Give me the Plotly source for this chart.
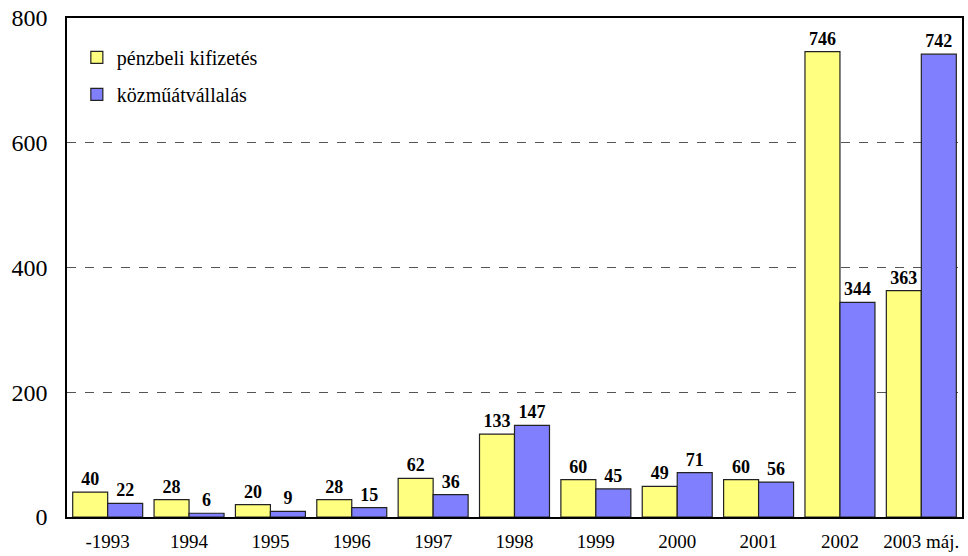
import plotly.graph_objects as go

categories = ["-1993", "1994", "1995", "1996", "1997", "1998", "1999", "2000", "2001", "2002", "2003 máj."]
penzbeli = [40, 28, 20, 28, 62, 133, 60, 49, 60, 746, 363]
kozmu = [22, 6, 9, 15, 36, 147, 45, 71, 56, 344, 742]

font = "Liberation Serif"

fig = go.Figure()
fig.add_bar(x=categories, y=penzbeli, name="pénzbeli kifizetés", legendgroup="a",
            marker=dict(color="#FFFF80", line=dict(color="#222222", width=1.2)),
            text=penzbeli, textposition="outside", cliponaxis=False,
            textfont=dict(family=font, size=18, color="black", weight="bold"))
fig.add_bar(x=categories, y=kozmu, name="közműátvállalás", legendgroup="b",
            marker=dict(color="#8080FF", line=dict(color="#222222", width=1.2)),
            text=kozmu, textposition="outside", cliponaxis=False,
            textfont=dict(family=font, size=18, color="black", weight="bold"))

fig.update_layout(
    width=968, height=556,
    margin=dict(l=67, r=4, t=18, b=38),
    plot_bgcolor="white", paper_bgcolor="white",
    font=dict(family=font, color="black"),
    barmode="group", bargap=0.14, bargroupgap=0,
    showlegend=True,
    legend=dict(x=0.011, y=0.96, xanchor="left", yanchor="top",
                font=dict(family=font, size=20), bgcolor="rgba(0,0,0,0)",
                traceorder="grouped", tracegroupgap=8),
)
fig.update_xaxes(showline=True, linecolor="black", linewidth=1.5, mirror=True,
                 ticks="", tickfont=dict(family=font, size=19), showgrid=False,
                 ticklabelstandoff=6)
fig.update_yaxes(range=[0, 800], dtick=200, showline=True, linecolor="black",
                 linewidth=1.5, mirror=True, ticks="", tickfont=dict(family=font, size=24),
                 showgrid=True, gridcolor="#555555", griddash="dash", gridwidth=1,
                 zeroline=False, ticklabelstandoff=13)

fig.write_html("out.html", config={"displayModeBar": False},
               post_script="document.body.style.margin='0';")
